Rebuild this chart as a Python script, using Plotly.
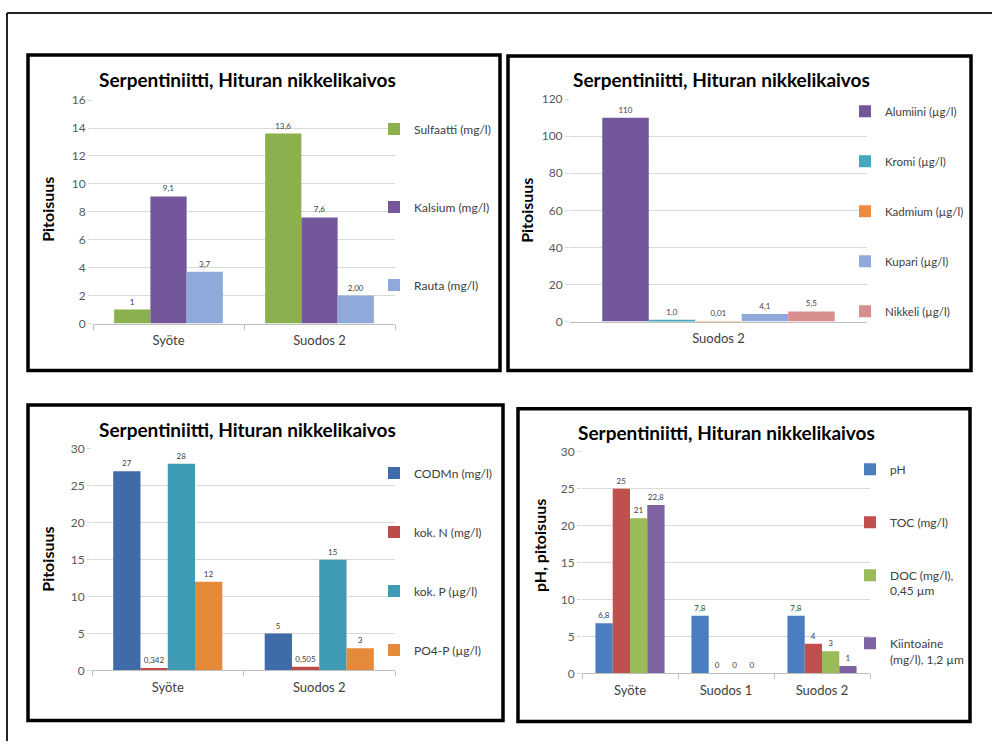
import plotly.graph_objects as go

W, H = 992, 748

# ---------------- data ----------------
p1_categories = ["Syöte", "Suodos 2"]
p1_names = ["Sulfaatti (mg/l)", "Kalsium (mg/l)", "Rauta (mg/l)"]
p1_sulfaatti = [1, 13.6]
p1_kalsium = [9.1, 7.6]
p1_rauta = [3.7, 2.0]
p1_sulfaatti_lbl = ["1", "13,6"]
p1_kalsium_lbl = ["9,1", "7,6"]
p1_rauta_lbl = ["3,7", "2,00"]
p1_colors = ["#8DB04F", "#74579A", "#8FAADA"]

p2_categories = ["Suodos 2"]
p2_names = ["Alumiini (µg/l)", "Kromi (µg/l)", "Kadmium (µg/l)", "Kupari (µg/l)", "Nikkeli (µg/l)"]
p2_alumiini = [110]
p2_kromi = [1.0]
p2_kadmium = [0.01]
p2_kupari = [4.1]
p2_nikkeli = [5.5]
p2_alumiini_lbl = ["110"]
p2_kromi_lbl = ["1,0"]
p2_kadmium_lbl = ["0,01"]
p2_kupari_lbl = ["4,1"]
p2_nikkeli_lbl = ["5,5"]
p2_colors = ["#74579A", "#45A6C0", "#F08A3C", "#8FAADA", "#D78E8C"]

p3_categories = ["Syöte", "Suodos 2"]
p3_names = ["CODMn (mg/l)", "kok. N (mg/l)", "kok. P (µg/l)", "PO4-P (µg/l)"]
p3_codmn = [27, 5]
p3_kokn = [0.342, 0.505]
p3_kokp = [28, 15]
p3_po4p = [12, 3]
p3_codmn_lbl = ["27", "5"]
p3_kokn_lbl = ["0,342", "0,505"]
p3_kokp_lbl = ["28", "15"]
p3_po4p_lbl = ["12", "3"]
p3_colors = ["#3F6BA9", "#BE4B48", "#3F9AB3", "#E5893B"]

p4_categories = ["Syöte", "Suodos 1", "Suodos 2"]
p4_names = ["pH", "TOC (mg/l)", "DOC (mg/l),<br>0,45 µm", "Kiintoaine<br>(mg/l), 1,2 µm"]
p4_ph = [6.8, 7.8, 7.8]
p4_toc = [25, 0, 4]
p4_doc = [21, 0, 3]
p4_kiintoaine = [22.8, 0, 1]
p4_ph_lbl = ["6,8", "7,8", "7,8"]
p4_toc_lbl = ["25", "0", "4"]
p4_doc_lbl = ["21", "0", "3"]
p4_kiintoaine_lbl = ["22,8", "0", "1"]
p4_colors = ["#4A7EBE", "#C0504D", "#9BBB59", "#7F62A1"]

title_text = "Serpentiniitti, Hituran nikkelikaivos"

FONT = "Lato"


def fx(x):
    return x / W


def fy(y):
    return 1 - y / H


fig = go.Figure()


def add_panel(idx, cats, series, labels, names, colors):
    ax = "" if idx == 1 else str(idx)
    leg = "legend" if idx == 1 else "legend%d" % idx
    for k, (vals, lbl, nm, col) in enumerate(zip(series, labels, names, colors)):
        fig.add_trace(go.Bar(
            x=cats, y=vals, name=nm, text=lbl,
            textposition="outside", constraintext="none", cliponaxis=False,
            textfont=dict(size=8, color="#404040", family=FONT),
            marker=dict(color=col, line=dict(width=0)),
            xaxis="x" + ax, yaxis="y" + ax,
            legend=leg, legendgroup="g%d_%d" % (idx, k),
        ))


add_panel(1, p1_categories, [p1_sulfaatti, p1_kalsium, p1_rauta],
          [p1_sulfaatti_lbl, p1_kalsium_lbl, p1_rauta_lbl], p1_names, p1_colors)
add_panel(2, p2_categories, [p2_alumiini, p2_kromi, p2_kadmium, p2_kupari, p2_nikkeli],
          [p2_alumiini_lbl, p2_kromi_lbl, p2_kadmium_lbl, p2_kupari_lbl, p2_nikkeli_lbl],
          p2_names, p2_colors)
add_panel(3, p3_categories, [p3_codmn, p3_kokn, p3_kokp, p3_po4p],
          [p3_codmn_lbl, p3_kokn_lbl, p3_kokp_lbl, p3_po4p_lbl], p3_names, p3_colors)
add_panel(4, p4_categories, [p4_ph, p4_toc, p4_doc, p4_kiintoaine],
          [p4_ph_lbl, p4_toc_lbl, p4_doc_lbl, p4_kiintoaine_lbl], p4_names, p4_colors)

# plot areas (pixel boxes: left, right, top, bottom), y ranges
panels = {
    1: dict(box=(93, 395, 94, 322), yr=[0, 16], dt=2, xr=None),
    2: dict(box=(570, 867, 93, 320), yr=[0, 120], dt=20, xr=[-0.46, 0.46]),
    3: dict(box=(92, 395, 450, 676), yr=[0, 30], dt=5, xr=None),
    4: dict(box=(582, 870, 453, 679), yr=[0, 30], dt=5, xr=None),
}

layout = dict(
    width=W, height=H, margin=dict(l=0, r=0, t=0, b=0),
    paper_bgcolor="white", plot_bgcolor="white",
    font=dict(family=FONT, color="#404040"),
    barmode="group", bargap=0.28, bargroupgap=0,
    showlegend=True,
)

for i, p in panels.items():
    ax = "" if i == 1 else str(i)
    l, r, t, b = p["box"]
    xa = dict(
        domain=[fx(l), fx(r)], anchor="y" + ax,
        showline=True, linecolor="#BFBFBF", linewidth=1,
        ticks="outside", tickson="boundaries", ticklen=5, tickcolor="#BFBFBF",
        tickfont=dict(size=13, color="#404040", family=FONT),
        ticklabelstandoff=5, showgrid=False, zeroline=False, fixedrange=True,
    )
    if p["xr"] is not None:
        xa["range"] = p["xr"]
    ya = dict(
        domain=[fy(b), fy(t)], anchor="x" + ax, range=p["yr"], dtick=p["dt"],
        showgrid=True, gridcolor="#D9D9D9", gridwidth=1,
        showline=False, zeroline=False, ticks="outside", ticklen=4, tickcolor="#D9D9D9",
        tickfont=dict(size=12, color="#595959", family=FONT), fixedrange=True,
    )
    layout["xaxis" + ax] = xa
    layout["yaxis" + ax] = ya

leg_common = dict(xanchor="left", yanchor="top", bgcolor="rgba(0,0,0,0)",
                  itemclick=False, itemdoubleclick=False, traceorder="grouped",
                  valign="top")
leg_font = dict(size=12, color="#404040", family=FONT)
leg_font2 = dict(size=11.5, color="#404040", family=FONT)
layout["legend"] = dict(x=fx(374), y=fy(109), tracegroupgap=59, font=leg_font, **leg_common)
layout["legend2"] = dict(x=fx(845), y=fy(91), tracegroupgap=31, font=leg_font2, **leg_common)
layout["legend3"] = dict(x=fx(374), y=fy(460), tracegroupgap=40, font=leg_font, **leg_common)
layout["legend4"] = dict(x=fx(850), y=fy(456), tracegroupgap=34, font=leg_font, **leg_common)

annotations = []
titles = [(247, 73), (721, 73), (247, 430), (726, 433)]
for (cx, cy) in titles:
    annotations.append(dict(
        text="<b>%s</b>" % title_text, x=fx(cx), y=fy(cy), xref="paper", yref="paper",
        xanchor="center", yanchor="middle", showarrow=False,
        font=dict(size=19, color="#000000", family=FONT)))
ytitles = [("Pitoisuus", 48, 206), ("Pitoisuus", 527, 207),
           ("Pitoisuus", 48, 563), ("pH, pitoisuus", 540, 549)]
for (txt, cx, cy) in ytitles:
    annotations.append(dict(
        text="<b>%s</b>" % txt, x=fx(cx), y=fy(cy), xref="paper", yref="paper",
        xanchor="center", yanchor="middle", showarrow=False, textangle=-90,
        font=dict(size=16, color="#000000", family=FONT)))
layout["annotations"] = annotations

shapes = []
# outer frame (top and left edges)
shapes.append(dict(type="line", xref="paper", yref="paper", x0=fx(7), x1=fx(992),
                   y0=fy(5), y1=fy(5), line=dict(color="#222222", width=2)))
shapes.append(dict(type="line", xref="paper", yref="paper", x0=fx(7), x1=fx(7),
                   y0=fy(5), y1=fy(748), line=dict(color="#222222", width=2)))
for (l, t, r, b) in [(28, 48, 500, 370), (508, 49, 971, 370),
                     (28, 405, 503, 727), (518, 409, 970, 728)]:
    shapes.append(dict(type="rect", xref="paper", yref="paper",
                       x0=fx(l), x1=fx(r), y0=fy(b), y1=fy(t),
                       line=dict(color="#000000", width=3.5), fillcolor="rgba(0,0,0,0)"))
layout["shapes"] = shapes

fig.update_layout(**layout)
fig.write_html("out.html")
